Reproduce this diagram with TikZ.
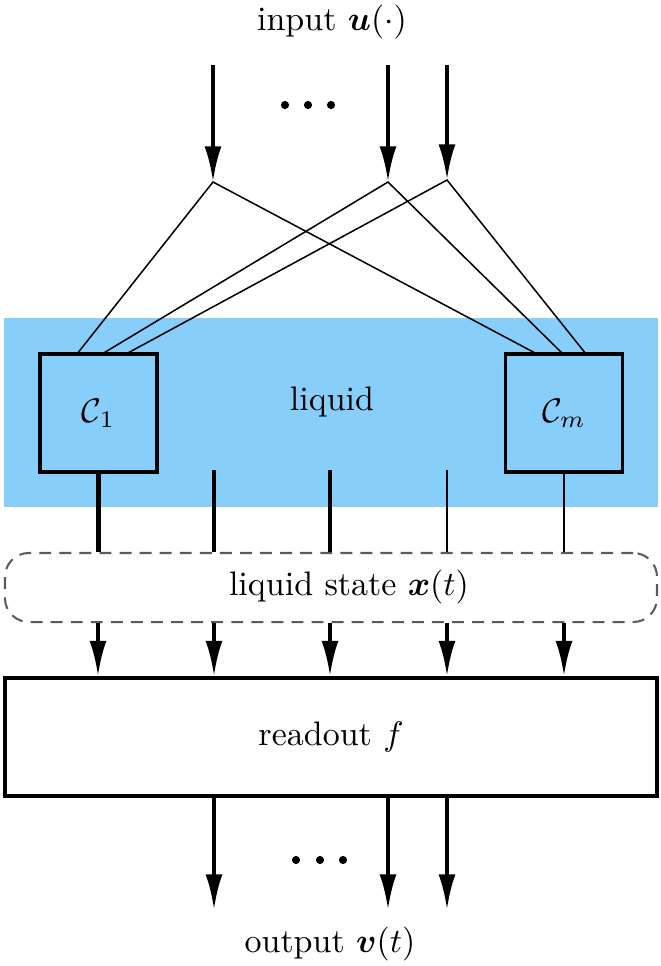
\documentclass[tikz,border=0pt]{standalone}
\usepackage{amsmath,bm}
\usetikzlibrary{arrows.meta}
\definecolor{liquidblue}{RGB}{135,206,250}
\definecolor{dashgray}{RGB}{90,90,90}
\tikzset{
  arr/.style={line width=1.2pt,-{Latex[length=10.5pt,width=5pt]}},
  fan/.style={line width=0.45pt},
  stem/.style={line width=1.2pt},
  thinstem/.style={line width=0.85pt},
  cbox/.style={draw,line width=0.9pt,minimum width=34.4pt,minimum height=34.7pt,inner sep=0pt},
  dot/.style={fill,circle,inner sep=0pt,minimum size=2.4pt},
}
\begin{document}
\begin{tikzpicture}[x=0.294pt,y=-0.294pt]
\useasboundingbox (0,0) rectangle (660,966);
% liquid background
\fill[liquidblue] (4,318) rectangle (658,507);
\node (liq) at (332,402) {liquid};
\node[cbox] (c1) at (98.5,413) {$\mathcal{C}_1$};
\node[cbox] (cm) at (564,413) {$\mathcal{C}_m$};
% title
\node (in) at (332,22) {input $\bm{u}(\cdot)$};
\node (out) at (330,944) {output $\bm{v}(t)$};
\foreach \x/\n in {285/a,308/b,331/c}{\node[dot] (din\n) at (\x,105) {};}
\foreach \x/\n in {296/a,320/b,343/c}{\node[dot] (dout\n) at (\x,860) {};}
% input arrows
\coordinate (a1) at (213,65); \coordinate (b1) at (213,182);
\coordinate (a2) at (388,65); \coordinate (b2) at (388,182);
\coordinate (a3) at (447,65); \coordinate (b3) at (447,180);
\draw[arr] (a1) -- (b1);
\draw[arr] (a2) -- (b2);
\draw[arr] (a3) -- (b3);
% fan lines
\coordinate (p1) at (77,354); \coordinate (p2) at (102,354); \coordinate (p3) at (126,354);
\coordinate (q1) at (537,354); \coordinate (q2) at (563,354); \coordinate (q3) at (586,354);
\draw[fan] (p1) -- (b1) -- (q1);
\draw[fan] (p2) -- (b2) -- (q2);
\draw[fan] (p3) -- (b3) -- (q3);
% liquid state
\node[draw=dashgray,dash pattern=on 3.5pt off 2.4pt,line width=0.6pt,rounded corners=7pt,
  minimum width=191.7pt,minimum height=20.3pt,inner sep=0pt] (state) at (331,587.5) {};
\node (statelbl) at (349,587) {liquid state $\bm{x}(t)$};
% readout
\node[draw,line width=0.9pt,minimum width=191.7pt,minimum height=34.7pt,inner sep=0pt] (readout) at (331,737) {readout $f$};
% stems from liquid
\coordinate (s2) at (214,470); \coordinate (s3) at (330,470);
\coordinate (s4) at (447,470);
\draw[stem] (c1.south) -- (state.north -| c1.south);
\draw[stem] (s2) -- (state.north -| s2);
\draw[stem] (s3) -- (state.north -| s3);
\draw[thinstem] (s4) -- (state.north -| s4);
\draw[thinstem] (cm.south) -- (state.north -| cm.south);
% arrows to readout
\foreach \x in {98,214,330,447,564}{
  \draw[arr] (state.south -| \x,0) -- (readout.north -| \x,0);
}
% output arrows
\foreach \x in {214,388,447}{
  \draw[arr] (readout.south -| \x,0) -- (\x,910);
}
\end{tikzpicture}
\end{document}
